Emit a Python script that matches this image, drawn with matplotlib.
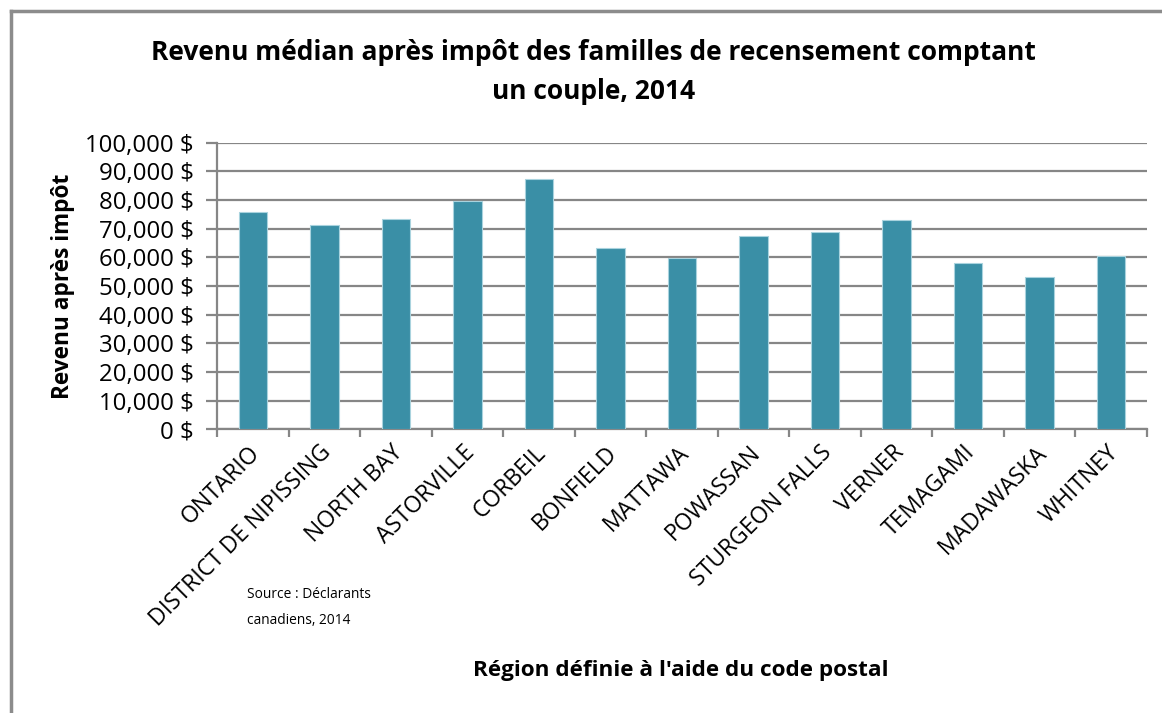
import matplotlib
matplotlib.use("Agg")
import matplotlib.pyplot as plt
from matplotlib.lines import Line2D
from matplotlib.ticker import FuncFormatter, MultipleLocator
import numpy as np

# données
regions = ["ONTARIO", "DISTRICT DE NIPISSING", "NORTH BAY", "ASTORVILLE",
           "CORBEIL", "BONFIELD", "MATTAWA", "POWASSAN", "STURGEON FALLS",
           "VERNER", "TEMAGAMI", "MADAWASKA", "WHITNEY"]
revenu = [75800, 71200, 73200, 79600, 87200, 63100, 59900,
          67500, 68700, 73000, 57900, 53200, 60300]

titre = "Revenu médian après impôt des familles de recensement comptant\nun couple, 2014"
source = "Source : Déclarants\ncanadiens, 2014"

plt.rcParams['font.family'] = ['Open Sans', 'DejaVu Sans']

fig = plt.figure(figsize=(11.62, 7.13), dpi=100)
ax = fig.add_axes([0.187, 0.398, 0.8, 0.402])

x = np.arange(len(regions))
ax.bar(x, revenu, width=0.4, color='#3A8FA6', edgecolor='#A9D3DE',
       linewidth=0.8, zorder=3)

ax.set_xlim(-0.5, len(regions) - 0.5)
ax.set_ylim(0, 100000)
ax.yaxis.set_major_locator(MultipleLocator(10000))
ax.yaxis.set_major_formatter(FuncFormatter(lambda v, p: f"{int(v):,} $"))
ax.grid(axis='y', color='#868686', linewidth=1.6, zorder=0)

for s in ['top', 'right']:
    ax.spines[s].set_visible(False)
for s in ['left', 'bottom']:
    ax.spines[s].set_color('#868686')
    ax.spines[s].set_linewidth(1.6)

# graduations entre les catégories
ax.set_xticks(np.arange(-0.5, len(regions)), minor=False)
ax.set_xticklabels([])
ax.tick_params(axis='x', length=6, width=1.6, color='#868686')
ax.tick_params(axis='y', length=8, width=1.6, color='#868686',
               labelsize=17.3, pad=9)

for i, nom in enumerate(regions):
    ax.text(i + 0.05, -7000, nom, rotation=45, rotation_mode='anchor',
            ha='right', va='center', fontsize=16.5)

fig.text(0.511, 0.899, titre, ha='center', va='center', fontsize=19,
         fontweight='bold', linespacing=1.58)
ax.set_ylabel("Revenu après impôt", fontsize=16.3, fontweight='bold', labelpad=7)
fig.text(0.586, 0.06, "Région définie à l'aide du code postal", ha='center',
         va='center', fontsize=16.2, fontweight='bold')
fig.text(0.2125, 0.148, source, ha='left', va='center', fontsize=9.9,
         linespacing=2.0)

# cadre du graphique (haut et gauche)
fig.add_artist(Line2D([0.0095, 0.0095], [0, 0.985], color='#8c8c8c', lw=2.5))
fig.add_artist(Line2D([0.0095, 1.0], [0.985, 0.985], color='#8c8c8c', lw=2.5))

fig.savefig("out.png", dpi=100)
